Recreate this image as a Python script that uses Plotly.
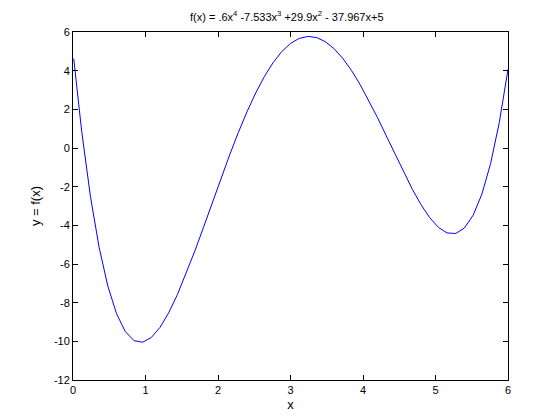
import plotly.graph_objects as go

x_vals = [0.01, 0.12, 0.24, 0.36, 0.48, 0.60, 0.72, 0.84, 0.96, 1.08,
          1.20, 1.32, 1.44, 1.56, 1.68, 1.80, 1.92, 2.04, 2.16, 2.28,
          2.40, 2.52, 2.64, 2.76, 2.88, 3.00, 3.12, 3.24, 3.36, 3.48,
          3.60, 3.72, 3.84, 3.96, 4.08, 4.20, 4.32, 4.44, 4.56, 4.68,
          4.80, 4.92, 5.04, 5.16, 5.28, 5.40, 5.52, 5.64, 5.76, 5.88, 6.00]
y_vals = [4.623, 0.862, -2.492, -5.135, -7.136, -8.566, -9.487, -9.961, -10.048, -9.802,
          -9.277, -8.523, -7.585, -6.509, -5.334, -4.099, -2.837, -1.582, -0.362, 0.798,
          1.874, 2.846, 3.698, 4.416, 4.989, 5.408, 5.669, 5.771, 5.713, 5.501,
          5.140, 4.642, 4.018, 3.285, 2.463, 1.572, 0.637, -0.313, -1.247, -2.132,
          -2.930, -3.603, -4.106, -4.395, -4.421, -4.131, -3.471, -2.383, -0.807, 1.322, 4.070]

x_ticks = [0, 1, 2, 3, 4, 5, 6]
y_ticks = [-12, -10, -8, -6, -4, -2, 0, 2, 4, 6]

title_text = "f(x) = .6x<sup>4</sup> -7.533x<sup>3</sup> +29.9x<sup>2</sup> - 37.967x+5"

fig = go.Figure()
fig.add_trace(go.Scatter(x=x_vals, y=y_vals, mode="lines",
                         line=dict(color="#0000ff", width=1), showlegend=False))

font_family = "Liberation Sans, Arial, sans-serif"
axis_common = dict(showline=True, linecolor="black", linewidth=1, mirror="ticks",
                   ticks="inside", ticklen=5, tickcolor="black", tickwidth=1,
                   showgrid=False, zeroline=False,
                   tickfont=dict(family=font_family, size=11, color="black"))

fig.update_layout(
    width=552, height=412,
    margin=dict(l=65, r=52, t=24, b=40),
    paper_bgcolor="white", plot_bgcolor="white",
    font=dict(family=font_family, size=11, color="black"),
    title=dict(text=title_text, x=0.505, xanchor="center", y=0.978, yanchor="middle",
               xref="container", yref="container",
               font=dict(family=font_family, size=11, color="black")),
    xaxis=dict(range=[0, 6], tickvals=x_ticks, ticktext=[str(v) for v in x_ticks],
               title=dict(text="x", standoff=4), **axis_common),
    yaxis=dict(range=[-12, 6], tickvals=y_ticks, ticktext=[str(v) for v in y_ticks],
               title=dict(text="y = f(x)", standoff=10), **axis_common),
)

fig.write_html("out.html")
